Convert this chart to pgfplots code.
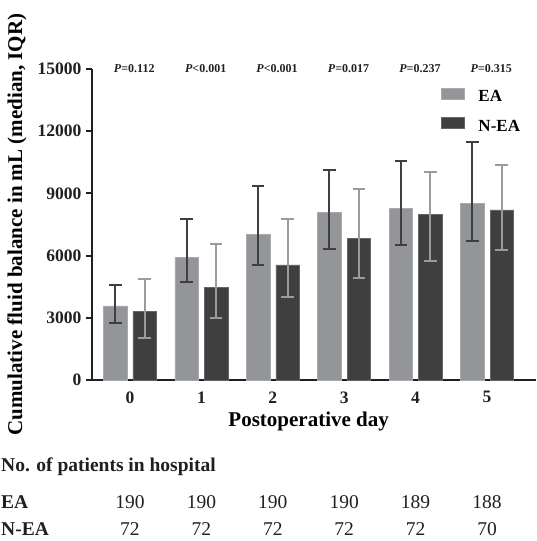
\documentclass[border=0pt]{standalone}
\usepackage{pgfplots}
\pgfplotsset{compat=1.18}
\usepackage{pgfplotstable}
\usepackage{fontspec}
\setmainfont{Liberation Serif}
\definecolor{eagray}{HTML}{939598}
\definecolor{neadark}{HTML}{3F3F3F}
\definecolor{axisblack}{HTML}{231F20}
\definecolor{errlight}{HTML}{9A9B9D}

\pgfplotstableread{
x y ep em
0 3570 1010 820
1 5920 1845 1210
2 7010 2350 1460
3 8090 2040 1760
4 8260 2320 1750
5 8520 2980 1820
}\tableEA
\pgfplotstableread{
x y ep em
0 3300 1570 1260
1 4470 2090 1480
2 5550 2200 1560
3 6820 2380 1920
4 7990 2055 2270
5 8200 2185 1920
}\tableNEA

\begin{document}
\begin{tikzpicture}
\begin{axis}[
  scale only axis,
  width=444pt, height=311pt,
  xmin=-0.532, xmax=5.686,
  ymin=0, ymax=15000,
  clip=false,
  axis x line*=bottom, axis y line*=left,
  axis line style={line width=1.8pt, color=axisblack},
  ytick={0,3000,6000,9000,12000,15000},
  scaled y ticks=false,
  xtick={0,1,2,3,4,5},
  xtick style={draw=none},
  ytick style={line width=1.8pt, color=axisblack},
  tick align=outside,
  major tick length=6pt,
  /pgf/number format/assume math mode=true,
  /pgf/number format/1000 sep={},
  tick label style={font=\fontsize{17.5}{20}\selectfont\bfseries, color=axisblack},
  yticklabel style={xshift=-1pt},
  xticklabel style={yshift=-2pt},
  xlabel={Postoperative day},
  ylabel={Cumulative fluid balance in mL (median, IQR)},
  every axis x label/.style={at={(axis description cs:0.488,-0.132)}, anchor=center, font=\fontsize{21}{24}\selectfont\bfseries},
  every axis y label/.style={at={(axis description cs:-0.169,0.5)}, rotate=90, anchor=center, font=\fontsize{21}{24}\selectfont\bfseries},
  legend style={at={(rel axis cs:0.786,0.939)}, anchor=north west, draw=none, fill=none,
    inner sep=0pt, outer sep=0pt, row sep=14pt, nodes={inner sep=0pt},
    font=\fontsize{17}{20}\selectfont\bfseries,
    /tikz/every odd column/.append style={column sep=14pt}},
  legend cell align=left,
  legend image code/.code={\fill[#1] (0pt,-2.2pt) rectangle (23pt,8.8pt);},
]
\addplot[ybar, bar width=23.5pt, bar shift=0pt, fill=eagray, draw=eagray!80!white, line width=0.5pt,
  error bars/.cd, y dir=both, y explicit, error mark=-,
  error bar style={line width=2pt, color=neadark},
  error mark options={rotate=90, line width=2pt, mark size=6.3pt, color=neadark}]
  table[x expr=\thisrow{x}-0.2066, y=y, y error plus=ep, y error minus=em] {\tableEA};
\addlegendentry{EA}
\addplot[ybar, bar width=23.5pt, bar shift=0pt, fill=neadark, draw=neadark!80!white, line width=0.5pt,
  error bars/.cd, y dir=both, y explicit, error mark=-,
  error bar style={line width=2pt, color=errlight},
  error mark options={rotate=90, line width=2pt, mark size=6.3pt, color=errlight}]
  table[x expr=\thisrow{x}+0.2066, y=y, y error plus=ep, y error minus=em] {\tableNEA};
\addlegendentry{N-EA}

% P values
\begin{scope}[every node/.style={font=\fontsize{12}{14}\selectfont\bfseries, anchor=center, color=axisblack}]
\node at (axis cs:0.06,15000) {\textit{P}=0.112};
\node at (axis cs:1.06,15000) {\textit{P}<0.001};
\node at (axis cs:2.06,15000) {\textit{P}<0.001};
\node at (axis cs:3.06,15000) {\textit{P}=0.017};
\node at (axis cs:4.06,15000) {\textit{P}=0.237};
\node at (axis cs:5.06,15000) {\textit{P}=0.315};
\end{scope}

% patients table
\begin{scope}[every node/.style={font=\fontsize{19.5}{22}\selectfont, anchor=center, color=axisblack, inner sep=0pt}]
\node[anchor=west, font=\fontsize{19.5}{22}\selectfont\bfseries] at ([xshift=-91pt,yshift=-87pt]axis cs:-0.532,0) {No. of patients in hospital};
\node[anchor=west, font=\fontsize{19.5}{22}\selectfont\bfseries] at ([xshift=-91pt,yshift=-122pt]axis cs:-0.532,0) {EA};
\node[anchor=west, font=\fontsize{19.5}{22}\selectfont\bfseries] at ([xshift=-91pt,yshift=-149pt]axis cs:-0.532,0) {N-EA};
\node at ([yshift=-122pt]axis cs:0,0) {190};
\node at ([yshift=-122pt]axis cs:1,0) {190};
\node at ([yshift=-122pt]axis cs:2,0) {190};
\node at ([yshift=-122pt]axis cs:3,0) {190};
\node at ([yshift=-122pt]axis cs:4,0) {189};
\node at ([yshift=-122pt]axis cs:5,0) {188};
\node at ([yshift=-149pt]axis cs:0,0) {72};
\node at ([yshift=-149pt]axis cs:1,0) {72};
\node at ([yshift=-149pt]axis cs:2,0) {72};
\node at ([yshift=-149pt]axis cs:3,0) {72};
\node at ([yshift=-149pt]axis cs:4,0) {72};
\node at ([yshift=-149pt]axis cs:5,0) {70};
\end{scope}
\end{axis}
\pgfresetboundingbox
\path[use as bounding box] (-92pt,-161pt) rectangle (444pt,380pt);
\end{tikzpicture}
\end{document}
